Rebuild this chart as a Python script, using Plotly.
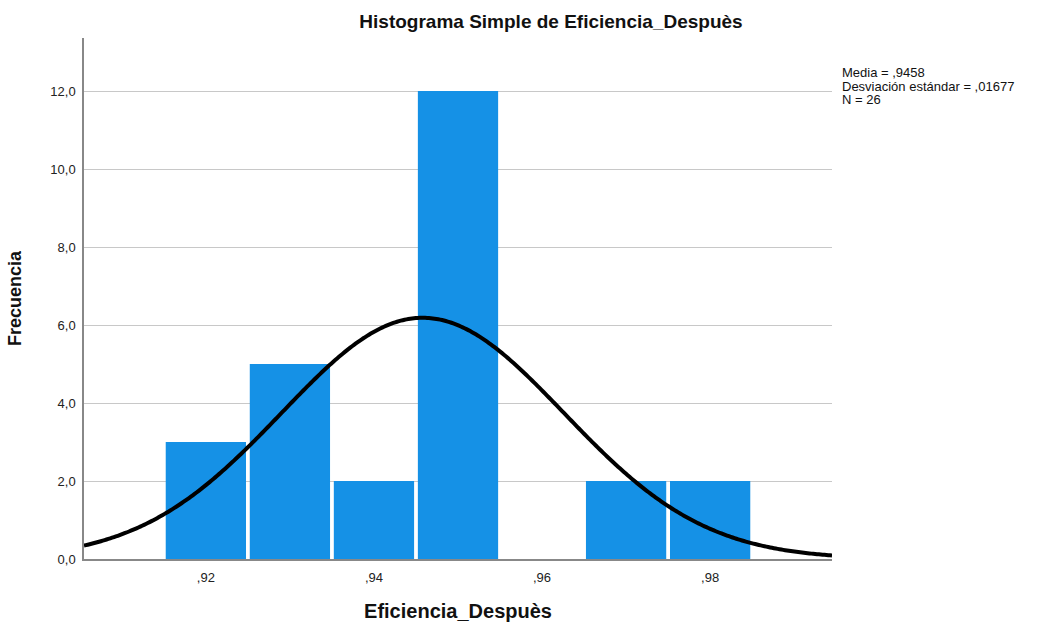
import numpy as np
import plotly.graph_objects as go

# Histogram bins (centres) and their frequencies
bin_centers = [0.92, 0.93, 0.94, 0.95, 0.96, 0.97, 0.98]
frequencies = [3, 5, 2, 12, 0, 2, 2]
bin_width = 0.01

# Summary statistics shown beside the chart
media = 0.9458
desviacion = 0.01677
n_total = 26

x_tickvals = [0.92, 0.94, 0.96, 0.98]
x_ticktext = [",92", ",94", ",96", ",98"]
y_tickvals = [0, 2, 4, 6, 8, 10, 12]
y_ticktext = ["0,0", "2,0", "4,0", "6,0", "8,0", "10,0", "12,0"]

x_min, x_max = 0.9055, 0.9945
y_max = 13.36

# Normal curve scaled to the histogram counts
xs = np.linspace(x_min, x_max, 400)
ys = n_total * bin_width / (desviacion * np.sqrt(2 * np.pi)) * np.exp(-0.5 * ((xs - media) / desviacion) ** 2)

font = "Liberation Sans, Arial, sans-serif"

fig = go.Figure()
fig.add_trace(go.Bar(
    x=bin_centers, y=frequencies, width=bin_width * 0.955,
    marker=dict(color="#1591E6", line=dict(width=0)),
    hoverinfo="skip",
))
fig.add_trace(go.Scatter(
    x=xs, y=ys, mode="lines",
    line=dict(color="black", width=4, simplify=False),
    hoverinfo="skip",
))

fig.update_layout(
    width=1037, height=626,
    margin=dict(l=84, r=205, t=38, b=67),
    plot_bgcolor="white", paper_bgcolor="white",
    showlegend=False,
    font=dict(family=font, color="#222", size=13),
    title=dict(
        text="<b>Histograma Simple de Eficiencia_Despuès</b>",
        x=551 / 1037, xanchor="center", y=1 - 21 / 626, yanchor="middle",
        font=dict(size=19, family=font, color="#111"),
    ),
    xaxis=dict(
        range=[x_min, x_max], tickvals=x_tickvals, ticktext=x_ticktext,
        showgrid=False, zeroline=False, showline=True, linecolor="#888", linewidth=1.5,
        ticks="", ticklabelstandoff=6, automargin=False,
        tickfont=dict(size=13, color="#222"),
        title=dict(text="<b>Eficiencia_Despuès</b>", font=dict(size=20, color="#111"), standoff=20),
    ),
    yaxis=dict(
        range=[0, y_max], tickvals=y_tickvals, ticktext=y_ticktext,
        showgrid=True, gridcolor="#c8c8c8", gridwidth=1.2, zeroline=False,
        showline=True, linecolor="#888", linewidth=1.5,
        ticks="", ticklabelstandoff=4, automargin=False,
        tickfont=dict(size=13, color="#222"),
        title=dict(text="<b>Frecuencia</b>", font=dict(size=18, color="#111"), standoff=24),
    ),
)

# Statistics block to the right of the plot, one line per annotation
stat_lines = [
    f"Media = ,{str(media)[2:]}",
    f"Desviación estándar = ,{str(desviacion)[2:]}",
    f"N = {n_total}",
]
plot_h = 559 - 38
for i, line in enumerate(stat_lines):
    fig.add_annotation(
        xref="paper", yref="paper", x=1.011, y=1 - (72 + 14 * i - 38) / plot_h,
        xanchor="left", yanchor="middle", align="left", showarrow=False,
        text=line, font=dict(size=13, family=font, color="#111"),
    )

fig.write_html("out.html")
